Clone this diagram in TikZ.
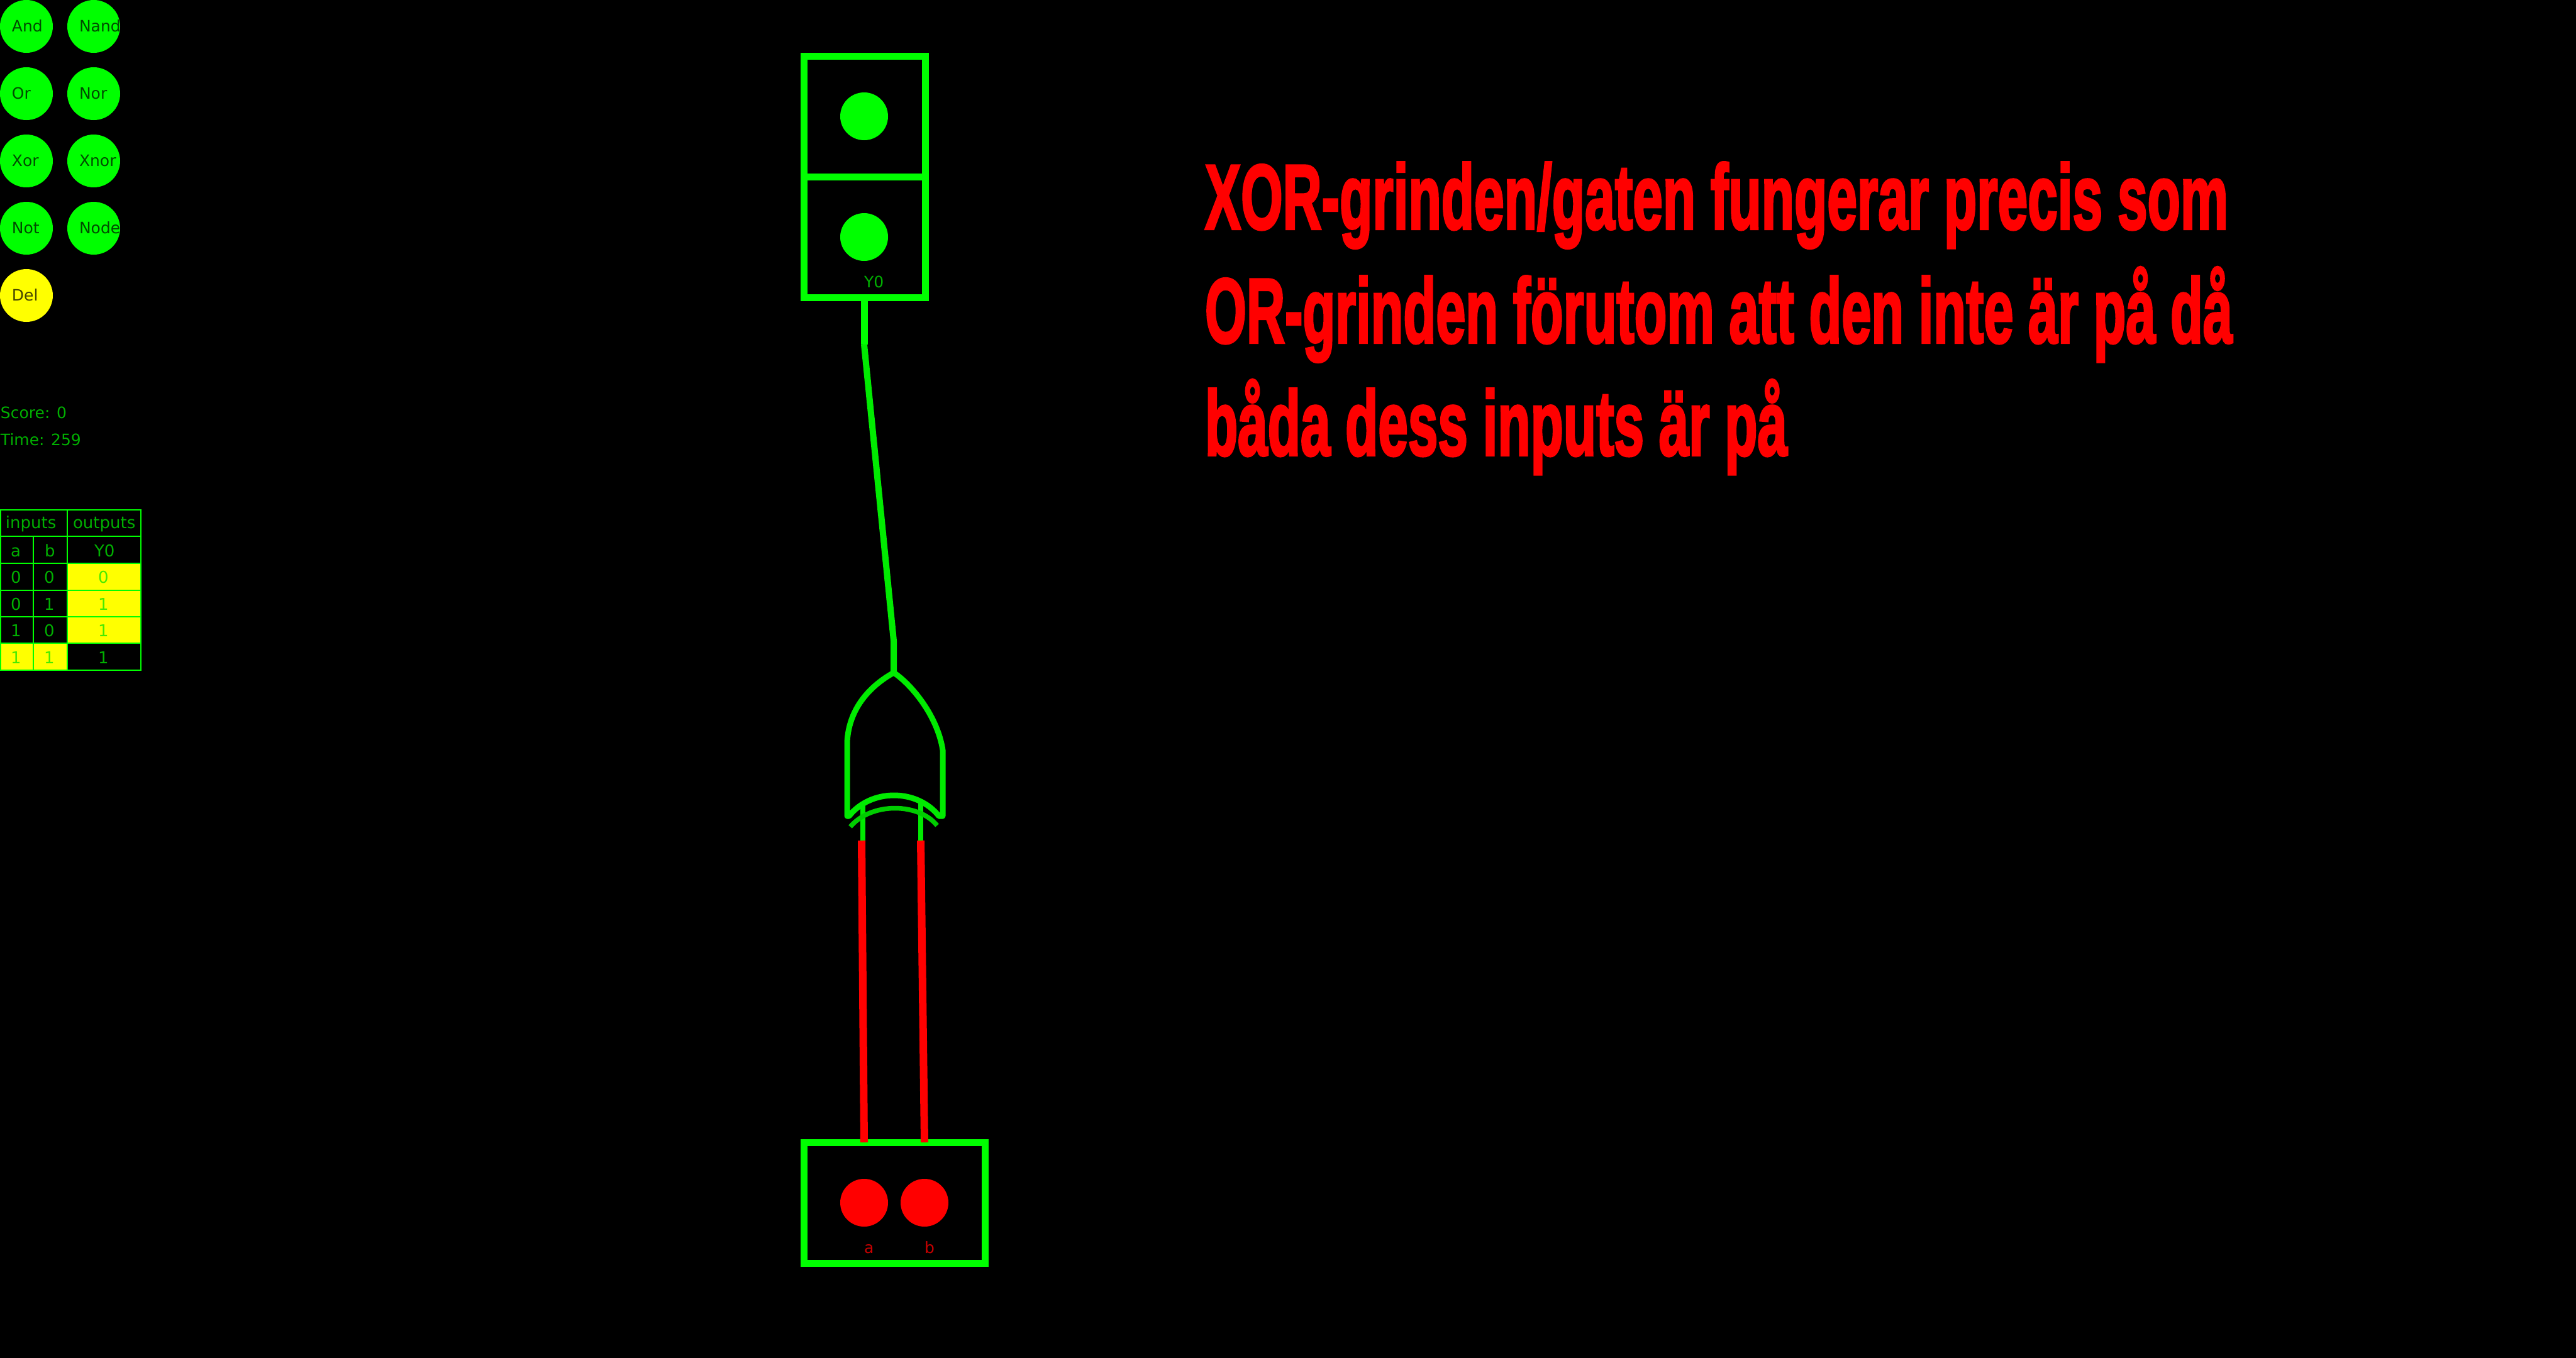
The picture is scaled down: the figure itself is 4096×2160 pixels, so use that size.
\documentclass[tikz,border=0pt]{standalone}
\usepackage{fontspec}
\usepackage{graphicx}
\setmainfont{DejaVu Sans}
\newfontfamily\headfont[FakeBold=3]{Liberation Sans Bold}
\definecolor{brightgreen}{RGB}{0,255,0}
\definecolor{gategreen}{RGB}{0,235,0}
\definecolor{arcgreen}{RGB}{0,205,0}
\definecolor{txtgreen}{RGB}{0,175,0}
\definecolor{inkgreen}{RGB}{0,75,0}
\definecolor{inkyellow}{RGB}{70,70,0}
\definecolor{yellowtxt}{RGB}{70,235,0}
\definecolor{softred}{RGB}{200,0,0}
\definecolor{pureyellow}{RGB}{255,255,0}
\definecolor{purered}{RGB}{255,0,0}
\tikzset{
  x=1pt,y=-1pt,
  lbl/.style={inner sep=0pt,outer sep=0pt,anchor=base west,font=\fontsize{26}{26}\selectfont},
  smalllbl/.style={inner sep=0pt,outer sep=0pt,anchor=base west,font=\fontsize{25}{25}\selectfont},
  btn/.style={circle,minimum size=84pt,inner sep=0pt,outer sep=0pt},
  lamp/.style={circle,minimum size=76pt,inner sep=0pt,outer sep=0pt},
  frame/.style={draw=brightgreen,line width=11pt},
  grid/.style={draw=brightgreen,line width=2.8pt},
  wireon/.style={draw=brightgreen,line width=11pt},
  wireoff/.style={draw=purered,line width=12pt},
  gatebody/.style={draw=gategreen,line width=9pt,line join=round},
  head/.style={inner sep=0pt,outer sep=0pt,anchor=base west,text=purered}
}
\newcommand{\gatebtn}[5]{%
  \node[btn,fill=#4] (btn#1) at (#2,#3) {};
  \begin{scope}
    \clip (btn#1.center) circle (42pt);
    \node[smalllbl,text=#5] (txt#1) at ([shift={(-23,8)}]btn#1.center) {#1};
  \end{scope}}
\newcommand{\headline}[4]{%
  \node[head] (#1) at (#2) {\resizebox{#3}{\height}{\fontsize{146}{146}\selectfont\headfont #4}};}
\begin{document}
\begin{tikzpicture}
\useasboundingbox (0,0) rectangle (4096,2160);
\fill[black] (0,0) rectangle (4096,2160);

% palette
\gatebtn{And}{42}{42}{brightgreen}{inkgreen}
\gatebtn{Nand}{149}{42}{brightgreen}{inkgreen}
\gatebtn{Or}{42}{149}{brightgreen}{inkgreen}
\gatebtn{Nor}{149}{149}{brightgreen}{inkgreen}
\gatebtn{Xor}{42}{256}{brightgreen}{inkgreen}
\gatebtn{Xnor}{149}{256}{brightgreen}{inkgreen}
\gatebtn{Not}{42}{363}{brightgreen}{inkgreen}
\gatebtn{Node}{149}{363}{brightgreen}{inkgreen}
\gatebtn{Del}{42}{470}{pureyellow}{inkyellow}

% score
\node[smalllbl,text=txtgreen] (score) at (1,665) {Score: 0};
\node[smalllbl,text=txtgreen] (time) at (1,708) {Time: 259};

% truth table
\fill[pureyellow] (107,896) rectangle (224,1023);
\fill[pureyellow] (0,1023) rectangle (107,1066);
\draw[grid] (1,811) rectangle (224,1066);
\foreach \yy in {853,896,939,981,1023} \draw[grid] (1,\yy) -- (224,\yy);
\draw[grid] (107,811) -- (107,1066);
\draw[grid] (53,853) -- (53,1066);
\node[lbl,text=txtgreen] (tinputs) at (9,840) {inputs};
\node[lbl,text=txtgreen] (toutputs) at (116,840) {outputs};
\node[lbl,text=txtgreen] (ta) at (17,885) {a};
\node[lbl,text=txtgreen] (tb) at (71,885) {b};
\node[lbl,text=txtgreen] (ty) at (150,885) {Y0};
\node[lbl,text=txtgreen] (r1a) at (17,927) {0};
\node[lbl,text=txtgreen] (r1b) at (70,927) {0};
\node[lbl,text=yellowtxt] (r1y) at (156,927) {0};
\node[lbl,text=txtgreen] (r2a) at (17,970) {0};
\node[lbl,text=txtgreen] (r2b) at (70,970) {1};
\node[lbl,text=yellowtxt] (r2y) at (156,970) {1};
\node[lbl,text=txtgreen] (r3a) at (17,1012) {1};
\node[lbl,text=txtgreen] (r3b) at (70,1012) {0};
\node[lbl,text=yellowtxt] (r3y) at (156,1012) {1};
\node[lbl,text=yellowtxt] (r4a) at (17,1055) {1};
\node[lbl,text=yellowtxt] (r4b) at (70,1055) {1};
\node[lbl,text=txtgreen] (r4y) at (156,1055) {1};

% output block
\coordinate (outtl) at (1278,89);
\coordinate (outbr) at (1471,473);
\coordinate (outbottom) at (1374,473);
\coordinate (outbend) at (1374,548);
\coordinate (gatewire) at (1421,1019);
\coordinate (gatetop) at (1421,1072);
\draw[wireon,line join=round] (outbottom) -- (outbend);
\draw[gategreen,line width=10pt,line join=round] (outbend) -- (gatewire) -- (gatetop);
\draw[frame] (outtl) rectangle (outbr);
\draw[frame] (1273,281) -- (1476,281);
\node[lamp,fill=brightgreen] (lampA) at (1374,185) {};
\node[lamp,fill=brightgreen] (lampB) at (1374,377) {};
\node[smalllbl,text=txtgreen] (ylabel) at (1374,457) {Y0};

% xor gate
\coordinate (ina) at (1370,1337);
\coordinate (inb) at (1464,1337);
\coordinate (ina2) at (1372,1278);
\coordinate (inb2) at (1464,1275);
\draw[gategreen,line width=8.5pt] (1372,1340) -- (ina2);
\draw[gategreen,line width=8.5pt] (1464,1340) -- (inb2);
\draw[gatebody] (1421,1070) .. controls (1385,1090) and (1350,1125) .. (1347,1180)
  -- (1347,1298) -- (1350,1298) .. controls (1385,1254) and (1458,1254) .. (1493,1298)
  -- (1499,1298) -- (1499,1193) .. controls (1490,1135) and (1445,1085) .. cycle;
\draw[arcgreen,line width=7.5pt] (1352,1315) .. controls (1385,1276) and (1460,1276) .. (1490,1313);

% input block
\draw[frame] (1278,1817) rectangle (1566.5,2009);
\coordinate (srca) at (1374,1817);
\coordinate (srcb) at (1470,1817);
\draw[wireoff] (srca) -- (ina);
\draw[wireoff] (srcb) -- (inb);
\node[lamp,fill=purered] (lampa) at (1374,1913) {};
\node[lamp,fill=purered] (lampb) at (1470,1913) {};
\node[smalllbl,text=softred] (alabel) at (1374,1993) {a};
\node[smalllbl,text=softred] (blabel) at (1470,1993) {b};

% explanation
\headline{l1}{1916,364}{1627pt}{XOR-grinden/gaten fungerar precis som}
\headline{l2}{1916,545}{1634pt}{OR-grinden förutom att den inte är på då}
\headline{l3}{1916,724}{926pt}{båda dess inputs är på}
\end{tikzpicture}
\end{document}
